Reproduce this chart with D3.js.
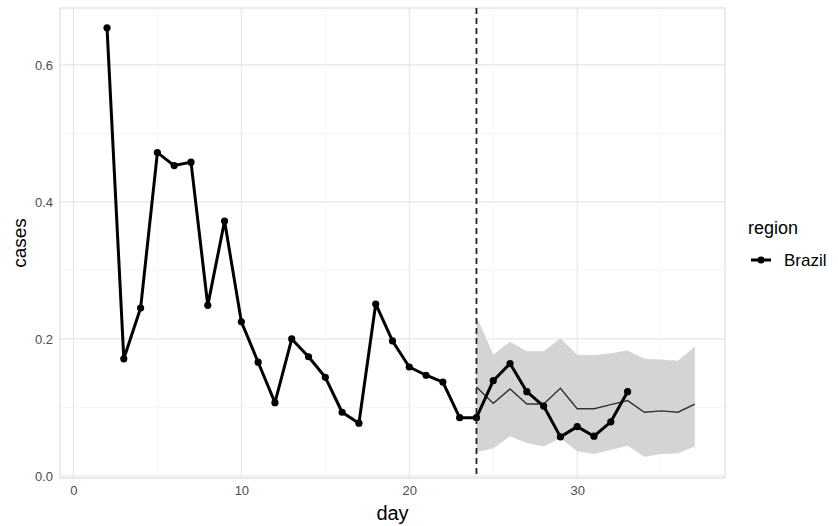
<!DOCTYPE html>
<html>
<head>
<meta charset="utf-8">
<script src="https://cdn.jsdelivr.net/npm/d3@7"></script>
<style>
  html, body { margin: 0; padding: 0; background: #fff; }
  svg { display: block; font-family: "Liberation Sans", Arial, Helvetica, sans-serif; }
</style>
</head>
<body>
<svg id="chart" width="838" height="526"></svg>
<script>
// ---- data ----
const days = [2,3,4,5,6,7,8,9,10,11,12,13,14,15,16,17,18,19,20,21,22,23,24,25,26,27,28,29,30,31,32,33];
const cases = [0.654,0.171,0.245,0.472,0.453,0.458,0.249,0.372,0.225,0.166,0.107,0.200,0.174,0.144,0.093,0.077,0.251,0.197,0.159,0.147,0.137,0.085,0.085,0.139,0.164,0.123,0.102,0.057,0.072,0.058,0.079,0.123];

const forecastDays = [24,25,26,27,28,29,30,31,32,33,34,35,36,37];
const forecastMid  = [0.130,0.106,0.127,0.105,0.105,0.128,0.098,0.098,0.104,0.110,0.093,0.095,0.093,0.105];
const forecastLow  = [0.035,0.040,0.058,0.048,0.043,0.055,0.036,0.032,0.038,0.044,0.028,0.032,0.033,0.043];
const forecastHigh = [0.233,0.177,0.196,0.182,0.182,0.201,0.177,0.176,0.179,0.183,0.171,0.170,0.168,0.189];

const cutoffDay = 24;
const xTicks = [0,10,20,30];
const xMinor = [5,15,25,35];
const yTicks = [0.0,0.2,0.4,0.6];
const yMinor = [0.1,0.3,0.5];
const seriesName = "Brazil";
const legendTitle = "region";

// ---- layout ----
const svg = d3.select("#chart");
const panel = {left: 60, right: 725, top: 8, bottom: 478};

const x = d3.scaleLinear().domain([-0.8, 38.8]).range([panel.left, panel.right]);
const y = d3.scaleLinear().domain([-0.003, 0.683]).range([panel.bottom, panel.top]);

const g = svg.append("g");

// minor grid
g.selectAll(".xminor").data(xMinor).enter().append("line")
  .attr("x1", d => x(d)).attr("x2", d => x(d))
  .attr("y1", panel.top).attr("y2", panel.bottom)
  .attr("stroke", "#f0f0f0").attr("stroke-width", 0.6);
g.selectAll(".yminor").data(yMinor).enter().append("line")
  .attr("y1", d => y(d)).attr("y2", d => y(d))
  .attr("x1", panel.left).attr("x2", panel.right)
  .attr("stroke", "#f0f0f0").attr("stroke-width", 0.6);
// major grid
g.selectAll(".xmajor").data(xTicks).enter().append("line")
  .attr("x1", d => x(d)).attr("x2", d => x(d))
  .attr("y1", panel.top).attr("y2", panel.bottom)
  .attr("stroke", "#e6e6e6").attr("stroke-width", 1.1);
g.selectAll(".ymajor").data(yTicks).enter().append("line")
  .attr("y1", d => y(d)).attr("y2", d => y(d))
  .attr("x1", panel.left).attr("x2", panel.right)
  .attr("stroke", "#e6e6e6").attr("stroke-width", 1.1);

// panel border
g.append("rect")
  .attr("x", panel.left).attr("y", panel.top)
  .attr("width", panel.right - panel.left).attr("height", panel.bottom - panel.top)
  .attr("fill", "none").attr("stroke", "#e3e3e3").attr("stroke-width", 1.4);

// ribbon
const fc = forecastDays.map((d, i) => ({d, lo: forecastLow[i], hi: forecastHigh[i], mid: forecastMid[i]}));
g.append("path").datum(fc)
  .attr("d", d3.area().x(p => x(p.d)).y0(p => y(p.lo)).y1(p => y(p.hi)))
  .attr("fill", "#d4d4d4");

// forecast median line
g.append("path").datum(fc)
  .attr("d", d3.line().x(p => x(p.d)).y(p => y(p.mid)))
  .attr("fill", "none").attr("stroke", "#333333").attr("stroke-width", 1.4);

// observed series
const obs = days.map((d, i) => ({d, v: cases[i]}));
g.append("path").datum(obs)
  .attr("d", d3.line().x(p => x(p.d)).y(p => y(p.v)))
  .attr("fill", "none").attr("stroke", "#000").attr("stroke-width", 3)
  .attr("stroke-linejoin", "round");
g.selectAll(".pt").data(obs).enter().append("circle")
  .attr("cx", p => x(p.d)).attr("cy", p => y(p.v)).attr("r", 3.6).attr("fill", "#000");

// cutoff dashed line
g.append("line")
  .attr("x1", x(cutoffDay)).attr("x2", x(cutoffDay))
  .attr("y1", panel.top).attr("y2", panel.bottom)
  .attr("stroke", "#222").attr("stroke-width", 1.8).attr("stroke-dasharray", "6,4");

// axes (tick labels only)
const xAxis = d3.axisBottom(x).tickValues(xTicks).tickSize(0).tickPadding(8).tickFormat(d3.format("d"));
const xg = svg.append("g").attr("transform", `translate(0,${panel.bottom})`).call(xAxis);
xg.select(".domain").remove();
xg.selectAll("text").attr("fill", "#4d4d4d").style("font-size", "13px")
  .style("font-family", "'Liberation Sans', Arial, sans-serif");

const yAxis = d3.axisLeft(y).tickValues(yTicks).tickSize(0).tickPadding(7).tickFormat(d3.format(".1f"));
const yg = svg.append("g").attr("transform", `translate(${panel.left},0)`).call(yAxis);
yg.select(".domain").remove();
yg.selectAll("text").attr("fill", "#4d4d4d").style("font-size", "13px")
  .style("font-family", "'Liberation Sans', Arial, sans-serif");

// axis titles
svg.append("text").attr("x", (panel.left + panel.right) / 2).attr("y", 520)
  .attr("text-anchor", "middle").attr("fill", "#000").style("font-size", "20px").text("day");
svg.append("text").attr("transform", `translate(26,${(panel.top + panel.bottom) / 2}) rotate(-90)`)
  .attr("text-anchor", "middle").attr("fill", "#000").style("font-size", "19px").text("cases");

// legend
svg.append("text").attr("x", 748).attr("y", 234).attr("fill", "#000")
  .style("font-size", "18px").text(legendTitle);
svg.append("line").attr("x1", 751).attr("x2", 771).attr("y1", 260).attr("y2", 260)
  .attr("stroke", "#000").attr("stroke-width", 3);
svg.append("circle").attr("cx", 761).attr("cy", 260).attr("r", 3.6).attr("fill", "#000");
svg.append("text").attr("x", 784).attr("y", 266).attr("fill", "#000")
  .style("font-size", "17px").text(seriesName);
</script>
</body>
</html>
